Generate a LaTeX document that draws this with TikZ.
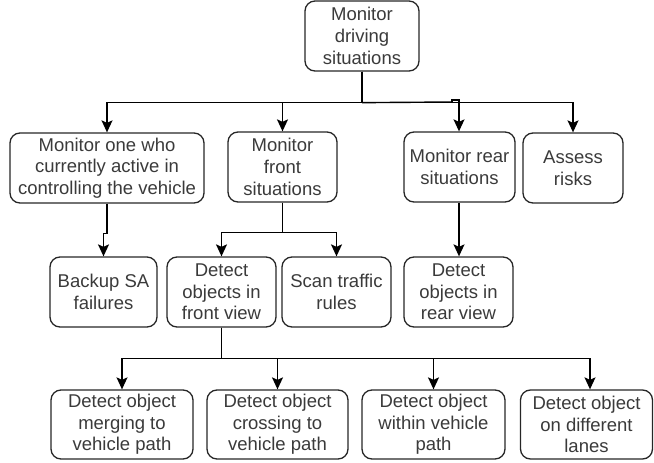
\documentclass[tikz,border=0pt]{standalone}
\usepackage{fontspec}
\setmainfont{Liberation Sans}
\usetikzlibrary{arrows.meta,calc}
\definecolor{txt}{HTML}{3A3A3A}
\definecolor{edge}{HTML}{262626}
\tikzset{
  box/.style={draw=edge, line width=1.3pt, rounded corners=10pt, align=center,
    inner sep=0pt, text=txt, font=\fontsize{18.5}{21.7}\selectfont},
  arr/.style={draw=black, line width=1.4pt, -{Stealth[length=12pt,width=11pt,inset=2.5pt]}}
}
\begin{document}
\begin{tikzpicture}[x=1pt,y=-1pt]
\useasboundingbox (0,0) rectangle (654,463);
% level 0
\node[box, minimum width=114pt, minimum height=70pt] (top) at (362,36) {Monitor\\driving\\situations};
% level 1
\node[box, minimum width=194pt, minimum height=70pt] (b1) at (107,168) {Monitor one who\\currently active in\\controlling the vehicle};
\node[box, minimum width=109pt, minimum height=70pt] (b2) at (282.5,167) {Monitor\\front\\situations};
\node[box, minimum width=111pt, minimum height=70pt] (b3) at (459.5,167) {Monitor rear\\situations};
\node[box, minimum width=100pt, minimum height=70pt] (b4) at (573,168) {Assess\\risks};
% level 2
\node[box, minimum width=107pt, minimum height=70pt] (backup) at (103.5,292) {Backup SA\\failures};
\node[box, minimum width=109pt, minimum height=70pt] (front) at (221.5,292) {Detect\\objects in\\front view};
\node[box, minimum width=109pt, minimum height=70pt] (scan) at (336.5,292) {Scan traffic\\rules};
\node[box, minimum width=109pt, minimum height=70pt] (rear) at (458.5,292) {Detect\\objects in\\rear view};
% level 3
\node[box, minimum width=142pt, minimum height=69pt] (B1) at (122,424.5) {Detect object\\merging to\\vehicle path};
\node[box, minimum width=141pt, minimum height=69pt] (B2) at (277.5,424.5) {Detect object\\crossing to\\vehicle path};
\node[box, minimum width=143pt, minimum height=69pt] (B3) at (433.5,424.5) {Detect object\\within vehicle\\path};
\node[box, minimum width=132pt, minimum height=69pt] (B4) at (586.5,424.5) {Detect object\\on different\\lanes};
% connectors
\coordinate (h0) at ($(top.south)+(0,31)$);
\coordinate (t3) at ($(b3.north)+(-0.5,0)$);
\coordinate (j3a) at (452,102);
\coordinate (j3b) at (452,100);
\draw[arr] (top.south) -- (h0) -| (b1.north);
\draw[arr] (top.south) -- (h0) -| (b2.north);
\draw[arr] (top.south) -- (h0) -| (b4.north);
\draw[line width=1.4pt] (h0) -- (j3a);
\draw[arr] (j3a) -- (j3b) -| (t3);
\draw[arr] (b1.south) -- ++(0,30) -| (backup.north);
\draw[arr] (b2.south) -- ++(0,30) -| (front.north);
\draw[arr] (b2.south) -- ++(0,30) -| (scan.north);
\draw[arr] (t3 |- b3.south) -- (t3 |- rear.north);
\coordinate (a4) at ($(B4.north)+(3.5,0)$);
\draw[arr] (front.south) -- ++(0,31) -| (B1.north);
\draw[arr] (front.south) -- ++(0,31) -| (B2.north);
\draw[arr] (front.south) -- ++(0,31) -| (B3.north);
\draw[arr] (front.south) -- ++(0,31) -| (a4);
\end{tikzpicture}
\end{document}
